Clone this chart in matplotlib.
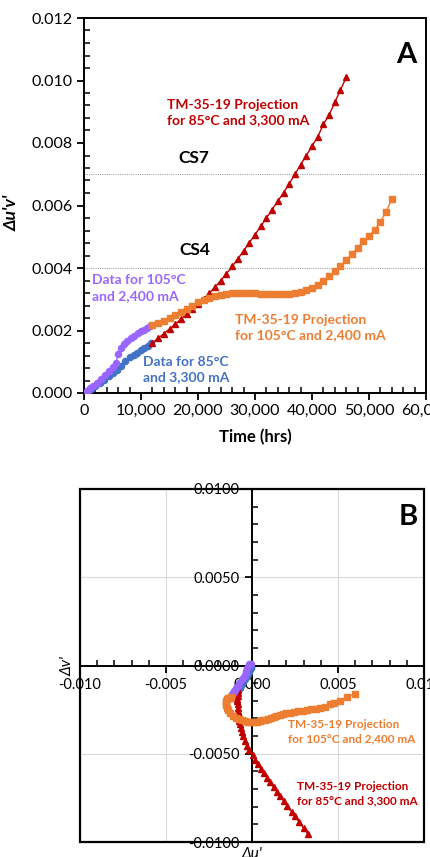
import matplotlib
matplotlib.use("Agg")
import matplotlib.pyplot as plt
from matplotlib.ticker import MultipleLocator, FuncFormatter
from matplotlib.patches import Rectangle

plt.rcParams['font.family'] = ['Lato', 'DejaVu Sans']
plt.rcParams['axes.unicode_minus'] = False

RED = '#C00000'
ORANGE = '#ED7D31'
BLUE = '#4472C4'
PURPLE = '#9966FF'

# ---------------- Panel A data: time (hrs) vs Δu'v' ----------------
purple_t = [600, 1100, 1600, 2200, 3000, 3700, 4400, 5100, 5600, 6000, 6500, 7000,
            7600, 8200, 8800, 9400, 10000, 10500, 11000, 11500]
purple_duv = [0.00008, 0.00015, 0.00022, 0.00031, 0.00045, 0.00058, 0.00069, 0.00082,
              0.00095, 0.00125, 0.00145, 0.00158, 0.00168, 0.00176, 0.00183, 0.00191,
              0.00198, 0.00203, 0.00208, 0.00213]

blue_t = [700, 1300, 2000, 2800, 3500, 4300, 5000, 5800, 6500, 7200, 8000, 8700,
          9300, 10000, 10600, 11200, 11700]
blue_duv = [0.00008, 0.00014, 0.00022, 0.00033, 0.00043, 0.00053, 0.00063, 0.00074,
            0.00088, 0.00104, 0.00115, 0.00122, 0.00127, 0.00137, 0.00145, 0.00152, 0.00160]

red_t = [12000, 13000, 14000, 15000, 16000, 17000, 18000, 19000, 20000, 21000, 22000,
         23000, 24000, 25000, 26000, 27000, 28000, 29000, 30000, 31000, 32000, 33000,
         34000, 35000, 36000, 37000, 38000, 39000, 40000, 41000, 42000, 43000, 44000,
         45000, 46000]
red_duv = [0.00160, 0.00175, 0.00190, 0.00205, 0.00220, 0.00236, 0.00252, 0.00268,
           0.00285, 0.00302, 0.00320, 0.00339, 0.00360, 0.00382, 0.00405, 0.00430,
           0.00455, 0.00481, 0.00507, 0.00533, 0.00560, 0.00587, 0.00614, 0.00641,
           0.00670, 0.00700, 0.00730, 0.00760, 0.00790, 0.00820, 0.00860, 0.00890,
           0.00930, 0.00970, 0.01010]

orange_t = [12000, 13000, 14000, 15000, 16000, 17000, 18000, 19000, 20000, 21000,
            22000, 23000, 24000, 25000, 26000, 27000, 28000, 29000, 30000, 31000,
            32000, 33000, 34000, 35000, 36000, 37000, 38000, 39000, 40000, 41000,
            42000, 43000, 44000, 45000, 46000, 47000, 48000, 49000, 50000, 51000,
            52000, 53000, 54000]
orange_duv = [0.00218, 0.00224, 0.00231, 0.00240, 0.00250, 0.00260, 0.00270, 0.00280,
              0.00290, 0.00298, 0.00305, 0.00310, 0.00314, 0.00317, 0.00319, 0.00320,
              0.00320, 0.00320, 0.00319, 0.00318, 0.00317, 0.00316, 0.00316, 0.00316,
              0.00317, 0.00319, 0.00323, 0.00329, 0.00337, 0.00347, 0.00359, 0.00373,
              0.00390, 0.00405, 0.00425, 0.00445, 0.00465, 0.00485, 0.00503, 0.00522,
              0.00548, 0.00580, 0.00620]

cs_levels = [0.004, 0.007]
cs_labels = ['CS4', 'CS7']

# ---------------- Panel B data: Δu' vs Δv' ----------------
purple_du = [-0.00005, -0.00012, -0.00020, -0.00028, -0.00033, -0.00037, -0.00042,
             -0.00049, -0.00057, -0.00073, -0.00084, -0.00092, -0.00098, -0.00103,
             -0.00107, -0.00111, -0.00115, -0.00118, -0.00120, -0.00122]
purple_dv = [0.00006, 0.00009, 0.00008, -0.00012, -0.00031, -0.00045, -0.00055,
             -0.00066, -0.00076, -0.00101, -0.00118, -0.00128, -0.00136, -0.00143,
             -0.00148, -0.00155, -0.00161, -0.00165, -0.00170, -0.00175]

blue_du = [-0.00003, -0.00006, -0.00010, -0.00015, -0.00020, -0.00025, -0.00030,
           -0.00036, -0.00043, -0.00050, -0.00056, -0.00060, -0.00063, -0.00068,
           -0.00072, -0.00076, -0.00080]
blue_dv = [-0.00007, -0.00013, -0.00020, -0.00029, -0.00038, -0.00047, -0.00055,
           -0.00065, -0.00077, -0.00091, -0.00100, -0.00106, -0.00110, -0.00119,
           -0.00126, -0.00132, -0.00139]

red_du = [-0.00080, -0.00082, -0.00084, -0.00085, -0.00085, -0.00084, -0.00082,
          -0.00080, -0.00078, -0.00076, -0.00073, -0.00068, -0.00063, -0.00057,
          -0.00050, -0.00040, -0.00030, -0.00015, 0.00003, 0.00020, 0.00036, 0.00053,
          0.00070, 0.00087, 0.00106, 0.00125, 0.00145, 0.00165, 0.00185, 0.00205,
          0.00230, 0.00250, 0.00275, 0.00300, 0.00325]
red_dv = [-0.00139, -0.00154, -0.00170, -0.00187, -0.00203, -0.00220, -0.00238,
          -0.00256, -0.00274, -0.00292, -0.00312, -0.00332, -0.00354, -0.00378,
          -0.00402, -0.00428, -0.00454, -0.00481, -0.00507, -0.00533, -0.00559,
          -0.00585, -0.00610, -0.00635, -0.00662, -0.00689, -0.00715, -0.00742,
          -0.00768, -0.00794, -0.00829, -0.00854, -0.00888, -0.00922, -0.00956]

orange_du = [-0.00125, -0.00130, -0.00138, -0.00145, -0.00150, -0.00152, -0.00152,
             -0.00148, -0.00140, -0.00128, -0.00112, -0.00095, -0.00078, -0.00060,
             -0.00042, -0.00025, -0.00008, 0.00010, 0.00027, 0.00044, 0.00060, 0.00076,
             0.00092, 0.00108, 0.00125, 0.00142, 0.00160, 0.00180, 0.00200, 0.00222,
             0.00245, 0.00268, 0.00294, 0.00318, 0.00345, 0.00371, 0.00397, 0.00423,
             0.00452, 0.00478, 0.00510, 0.00551, 0.00599]
orange_dv = [-0.00178, -0.00182, -0.00185, -0.00190, -0.00200, -0.00211, -0.00223,
             -0.00238, -0.00254, -0.00269, -0.00284, -0.00295, -0.00304, -0.00311,
             -0.00316, -0.00319, -0.00320, -0.00320, -0.00318, -0.00315, -0.00311,
             -0.00307, -0.00302, -0.00297, -0.00291, -0.00286, -0.00281, -0.00275,
             -0.00271, -0.00267, -0.00262, -0.00259, -0.00256, -0.00251, -0.00248,
             -0.00246, -0.00242, -0.00237, -0.00220, -0.00210, -0.00200, -0.00180,
             -0.00160]

red_label = 'TM-35-19 Projection\nfor 85°C and 3,300 mA'
orange_label = 'TM-35-19 Projection\nfor 105°C and 2,400 mA'
purple_label = 'Data for 105°C\nand 2,400 mA'
blue_label = 'Data for 85°C\nand 3,300 mA'

# ---------------- Figure ----------------
W, H = 430, 857
fig = plt.figure(figsize=(W / 100, H / 100), dpi=100)

def rect(l, t, r, b):
    return [l / W, 1 - b / H, (r - l) / W, (b - t) / H]

# ---- Panel A ----
ax = fig.add_axes(rect(84, 18, 426, 393))
ax.set_xlim(0, 60000)
ax.set_ylim(0, 0.012)

for lvl in cs_levels:
    ax.axhline(lvl, color='#a6a6a6', lw=0.8, ls=(0, (1, 1)), zorder=1)

ms_c, ms_t, ms_s = 4.4, 4.8, 3.7
ax.plot(blue_t, blue_duv, color=BLUE, marker='o', ms=ms_c, lw=1, zorder=3)
ax.plot(purple_t, purple_duv, color=PURPLE, marker='o', ms=ms_c, lw=1, zorder=4)
ax.plot(red_t, red_duv, color=RED, marker='^', ms=ms_t, lw=1, zorder=3)
ax.plot(orange_t, orange_duv, color=ORANGE, marker='s', ms=ms_s, lw=1, zorder=4)

ax.xaxis.set_major_locator(MultipleLocator(10000))
ax.xaxis.set_minor_locator(MultipleLocator(2000))
ax.yaxis.set_major_locator(MultipleLocator(0.002))
ax.yaxis.set_minor_locator(MultipleLocator(0.0004))
ax.xaxis.set_major_formatter(FuncFormatter(lambda v, p: f'{int(round(v)):,}'))
ax.yaxis.set_major_formatter(FuncFormatter(lambda v, p: f'{v:.3f}'))
ax.tick_params(which='major', direction='out', length=5, width=1.3, labelsize=11.5, pad=3)
ax.tick_params(which='minor', direction='in', length=4, width=1.1)
for s in ax.spines.values():
    s.set_linewidth(1.4)

ax.set_xlabel('Time (hrs)', fontsize=12, fontweight='bold')
ax.xaxis.set_label_coords(0.5, (393 - 437) / 375)
ax.xaxis.label.set_va('center')
ax.set_ylabel("\u0394u'v'", fontsize=12.5, fontweight='bold', fontstyle='italic')
ax.yaxis.set_label_coords((20 - 84) / 342, (393 - 213) / 375)

ax.text(19300, 0.00752, cs_labels[1], fontsize=12.5, fontweight='bold', ha='center', va='center')
ax.text(19500, 0.00458, cs_labels[0], fontsize=12.5, fontweight='bold', ha='center', va='center')
ax.text(56600, 0.01082, 'A', fontsize=21, fontweight='bold', ha='center', va='center')

txt_kw = dict(fontsize=10, fontweight='bold', ha='left', va='center', linespacing=1.35)
ax.text(14640, 0.00898, red_label, color=RED, **txt_kw)
ax.text(1410, 0.00336, purple_label, color=PURPLE, **txt_kw)
ax.text(10400, 0.00075, blue_label, color=BLUE, **txt_kw)
ax.text(26455, 0.0021, orange_label, color=ORANGE, **txt_kw)

# ---- Panel B ----
bx = fig.add_axes(rect(80, 489, 424, 842))
bx.set_xlim(-0.010, 0.010)
bx.set_ylim(-0.010, 0.010)
bx.grid(True, which='major', color='#d9d9d9', lw=0.8, zorder=0)
bx.set_axisbelow(True)

bx.spines['left'].set_position(('data', 0))
bx.spines['bottom'].set_position(('data', 0))
for s in bx.spines.values():
    s.set_linewidth(1.4)
bx.add_patch(Rectangle((0, 0), 1, 1, transform=bx.transAxes, fill=False,
                       lw=1.6, ec='black', zorder=5, clip_on=False))

bx.xaxis.set_major_locator(MultipleLocator(0.005))
bx.xaxis.set_minor_locator(MultipleLocator(0.001))
bx.yaxis.set_major_locator(MultipleLocator(0.005))
bx.yaxis.set_minor_locator(MultipleLocator(0.001))
bx.xaxis.set_major_formatter(FuncFormatter(lambda v, p: f'{v:.3f}'))
bx.yaxis.set_major_formatter(FuncFormatter(lambda v, p: f'{v:.4f}'))
bx.tick_params(which='major', direction='out', length=5, width=1.3, labelsize=10.5, pad=4)
bx.tick_params(which='minor', direction='in', length=4, width=1.1)

ms2_c, ms2_t, ms2_s = 4.4, 4.8, 3.7
bx.plot(blue_du, blue_dv, color=BLUE, marker='o', ms=ms2_c, lw=1, zorder=3)
bx.plot(purple_du, purple_dv, color=PURPLE, marker='o', ms=ms2_c, lw=1, zorder=4)
bx.plot(red_du, red_dv, color=RED, marker='^', ms=ms2_t, lw=1, zorder=3)
bx.plot(orange_du, orange_dv, color=ORANGE, marker='s', ms=ms2_s, lw=1, zorder=4)

bx.text(-0.0103, 0.0, "\u0394v'", fontsize=11, fontstyle='italic', rotation=90,
        ha='right', va='center')
bx.text(0.0, -0.0103, "\u0394u'", fontsize=11, fontstyle='italic', ha='center', va='top')
bx.text(0.00907, 0.00841, 'B', fontsize=21, fontweight='bold', ha='center', va='center')
txt_kw_b = dict(fontsize=8.5, fontweight='bold', ha='left', va='center', linespacing=1.4)
bx.text(0.00209, -0.00374, orange_label, color=ORANGE, **txt_kw_b)
bx.text(0.00262, -0.00728, red_label, color=RED, **txt_kw_b)

fig.savefig('out.png', dpi=100)
